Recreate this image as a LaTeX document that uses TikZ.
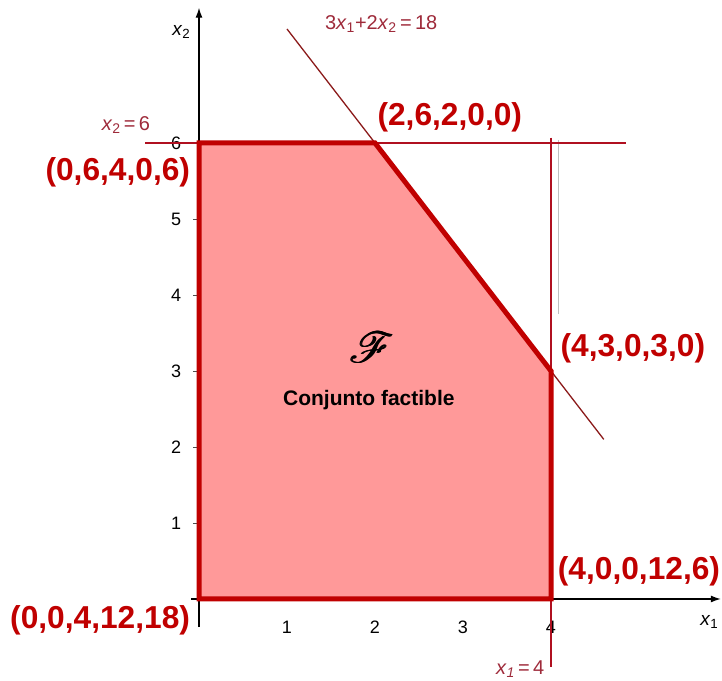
\documentclass[tikz,border=0pt]{standalone}
\usepackage{fontspec}
\setmainfont{Liberation Sans}
\usepackage{mathrsfs}
\usetikzlibrary{arrows.meta}
\definecolor{bord}{HTML}{C00000}
\definecolor{regfill}{HTML}{FF9999}
\definecolor{conline}{HTML}{B01020}
\definecolor{diagline}{HTML}{8B1A1A}
\definecolor{conlabel}{HTML}{9E2A3A}
\newcommand{\boldscr}{\rlap{$\mathscr{F}$}\kern0.18pt\rlap{$\mathscr{F}$}\kern0.18pt$\mathscr{F}$}
\tikzset{
  axis/.style={black, line width=1.3pt, -{Latex[length=10pt,width=7pt]}},
  tickline/.style={black!70, line width=0.8pt},
  ticklab/.style={font=\fontsize{18}{18}\selectfont, text=black, inner sep=0pt},
  vlab/.style={font=\fontsize{31.7}{32}\selectfont\bfseries, text=bord, inner sep=0pt},
  conlab/.style={font=\fontsize{20}{20}\selectfont, text=conlabel, inner sep=0pt},
  constr/.style={conline, line width=1.3pt},
}
\begin{document}
\begin{tikzpicture}[x=88pt,y=76pt]
\useasboundingbox (-2.2614,-1.0789) rectangle (5.9432,7.8816);
% axes
\coordinate (xs) at (-0.09,0);
\coordinate (xe) at (5.93,0);
\coordinate (ys) at (0,-0.37);
\coordinate (ye) at (0,7.78);
\draw[axis] (xs) -- (xe);
\draw[axis] (ys) -- (ye);
\foreach \i in {1,...,6} {
  \draw[tickline] (-0.07,\i) -- (0,\i);
  \node[ticklab, anchor=east] (yl\i) at (-0.2,\i) {\i};
}
\foreach \i in {1,...,4} {
  \draw[tickline] (\i,0) -- (\i,0.13);
  \node[ticklab] (xl\i) at (\i,-0.37) {\i};
}
\node[font=\fontsize{19}{19}\selectfont, inner sep=0pt] (x2lab) at (-0.2,7.46) {\textit{x}\textsubscript{2}};
\node[font=\fontsize{19}{19}\selectfont, inner sep=0pt] (x1lab) at (5.80,-0.30) {\textit{x}\textsubscript{1}};
% region fill
\coordinate (A) at (0,0);
\coordinate (B) at (0,6);
\coordinate (C) at (2,6);
\coordinate (D) at (4,3);
\coordinate (E) at (4,0);
\fill[regfill] (A) -- (B) -- (C) -- (D) -- (E) -- cycle;
% faint gray line
\coordinate (g1) at (4.08,6.04);
\coordinate (g2) at (4.08,3.75);
\draw[black!25, line width=0.8pt] (g1) -- (g2);
% constraint lines
\coordinate (h1) at (-0.61,6);
\coordinate (h2) at (4.85,6);
\coordinate (v1) at (4,6.07);
\coordinate (v2) at (4,-0.9);
\coordinate (d1) at (1.0,7.5);
\coordinate (d2) at (4.6,2.1);
\draw[constr] (h1) -- (h2);
\draw[constr] (v1) -- (v2);
\draw[diagline, line width=1.3pt] (d1) -- (d2);
% region border
\draw[bord, line width=5pt, line join=miter] (A) -- (B) -- (C) -- (D) -- (E) -- cycle;
% constraint labels
\node[conlab] (c1) at (2.07,7.57) {3\textit{x}\textsubscript{1}+2\textit{x}\textsubscript{2}\,=\,18};
\node[conlab] (c2) at (-0.83,6.24) {\textit{x}\textsubscript{2}\,=\,6};
\node[conlab] (c3) at (3.65,-0.92) {\textit{x}\textsubscript{\textit{1}}\,=\,4};
% vertex labels
\node[vlab, anchor=east] (pB) at (-0.10,5.62) {(0,6,4,0,6)};
\node[vlab] (pC) at (2.85,6.34) {(2,6,2,0,0)};
\node[vlab] (pD) at (4.93,3.30) {(4,3,0,3,0)};
\node[vlab] (pE) at (5.0,0.37) {(4,0,0,12,6)};
\node[vlab, anchor=east] (pA) at (-0.10,-0.28) {(0,0,4,12,18)};
% region labels
\node[inner sep=0pt, scale=4.3, transform shape] (F) at (1.96,3.31) {\boldscr};
\node[inner sep=0pt, font=\fontsize{21}{21}\selectfont\bfseries] (cf) at (1.93,2.62) {Conjunto factible};
\end{tikzpicture}
\end{document}
